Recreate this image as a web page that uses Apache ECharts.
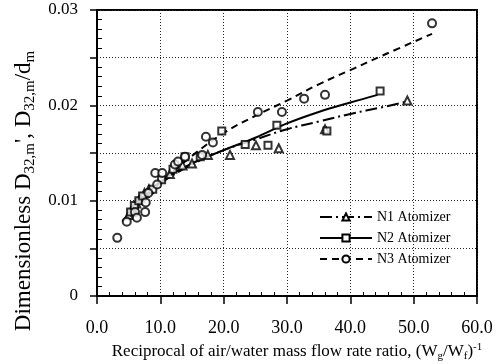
<!DOCTYPE html>
<html>
<head>
<meta charset="utf-8">
<script src="https://cdn.jsdelivr.net/npm/echarts@6/dist/echarts.min.js"></script>
<style>html,body{margin:0;padding:0;background:#fff}#c{width:503px;height:364px}</style>
</head>
<body>
<div id="c"></div>
<script>
// ---- data ----
const seriesNames = ['N1 Atomizer', 'N2 Atomizer', 'N3 Atomizer'];

// N1 (triangles)
const n1X = [5.0, 5.6, 6.2, 6.8, 7.5, 8.2, 11.5, 13.5, 15.0, 17.5, 21.0, 25.1, 28.7, 36.0, 49.0];
const n1Y = [0.0085, 0.0092, 0.0097, 0.0103, 0.0108, 0.0112, 0.0128, 0.0137, 0.0139, 0.0148, 0.0148, 0.0158, 0.0155, 0.0175, 0.0205];
// N2 (squares)
const n2X = [5.3, 5.9, 6.6, 7.2, 8.8, 10.2, 12.0, 13.9, 16.3, 19.7, 23.4, 27.0, 28.4, 36.3, 44.7];
const n2Y = [0.0088, 0.0095, 0.0100, 0.0105, 0.0112, 0.0122, 0.0133, 0.0146, 0.0146, 0.0173, 0.0159, 0.0158, 0.0179, 0.0173, 0.0215];
// N3 (circles)
const n3X = [3.2, 4.7, 6.0, 6.3, 7.6, 7.7, 8.1, 9.2, 9.5, 10.3, 12.3, 12.8, 13.9, 16.6, 17.2, 18.3, 25.4, 29.2, 32.7, 36.0, 52.9];
const n3Y = [0.0061, 0.0078, 0.0088, 0.0082, 0.0088, 0.0098, 0.0108, 0.0129, 0.0117, 0.0129, 0.0138, 0.0141, 0.0146, 0.0148, 0.0167, 0.0161, 0.0193, 0.0193, 0.0207, 0.0211, 0.0286];

// fitted curves
const fit1X = [5, 7, 10, 15, 20, 25, 30, 35, 40, 45, 49];
const fit1Y = [0.0085, 0.0101, 0.0118, 0.0138, 0.0153, 0.0164, 0.0175, 0.0183, 0.0191, 0.0198, 0.0204];
const fit2X = [4.7, 7, 10, 15, 20, 25, 30, 35, 40, 44.3];
const fit2Y = [0.0083, 0.0101, 0.0120, 0.0139, 0.0153, 0.0166, 0.0181, 0.0193, 0.0203, 0.0211];
const fit3X = [4, 6, 8, 10, 15, 20, 25, 30, 35, 40, 45, 52.9];
const fit3Y = [0.0078, 0.0093, 0.0106, 0.0119, 0.0147, 0.0171, 0.0189, 0.0205, 0.0222, 0.0237, 0.0252, 0.0275];

const xTickLabels = ['0.0', '10.0', '20.0', '30.0', '40.0', '50.0', '60.0'];
const yTickLabels = ['0', '0.01', '0.02', '0.03'];

// ---- build ----
const zip = (xs, ys) => xs.map((x, i) => [x, ys[i]]);
const FONT = 'Liberation Serif';
const BLACK = '#000';

const chart = echarts.init(document.getElementById('c'), null, {renderer: 'canvas'});

function fitSeries(name, xs, ys, dash, sym) {
  return {
    name: name, type: 'line', data: zip(xs, ys), smooth: 0.4,
    symbol: sym, symbolSize: 7, showSymbol: false,
    color: BLACK,
    lineStyle: {color: BLACK, width: 2, type: dash},
    itemStyle: {color: BLACK, borderColor: BLACK, borderWidth: 1.5},
    z: 3
  };
}
function ptSeries(name, xs, ys, sym, size) {
  return {
    name: name, type: 'scatter', data: zip(xs, ys),
    symbol: sym, symbolSize: size,
    itemStyle: {color: BLACK, borderColor: BLACK, borderWidth: 1.7},
    z: 4
  };
}

const option = {
  animation: false,
  backgroundColor: '#fff',
  textStyle: {fontFamily: FONT, color: BLACK},
  grid: {left: 97, right: 26, top: 10, bottom: 68, containLabel: false, outerBoundsMode: 'none',
    show: true, borderColor: BLACK, borderWidth: 2, backgroundColor: 'transparent'},
  legend: {
    data: seriesNames, orient: 'vertical', left: 314, top: 205,
    itemWidth: 52, itemHeight: 9, itemGap: 7,
    textStyle: {fontFamily: FONT, fontSize: 14, color: BLACK},
    inactiveColor: BLACK
  },
  xAxis: {
    type: 'value', min: 0, max: 60, interval: 10,
    axisLine: {lineStyle: {color: BLACK, width: 2}},
    axisTick: {show: true, inside: false, length: 8, lineStyle: {color: BLACK, width: 1.5}},
    minorTick: {show: true, splitNumber: 5, length: -4, lineStyle: {color: BLACK, width: 1}},
    splitLine: {show: true, lineStyle: {color: '#222', type: [1, 2], width: 1}},
    axisLabel: {margin: 23, fontFamily: FONT, fontSize: 18, color: BLACK,
      formatter: v => xTickLabels[Math.round(v / 10)] || ''},
    name: 'Reciprocal of air/water mass flow rate ratio, (W{sub|g}/W{sub|f}){sup|-1}',
    nameLocation: 'middle', nameGap: 42,
    nameTextStyle: {fontFamily: FONT, fontSize: 17, color: BLACK, lineHeight: 20, padding: [0, 0, 0, 20],
      rich: {sub: {fontFamily: FONT, fontSize: 11, lineHeight: 11, verticalAlign: 'bottom', color: BLACK},
             sup: {fontFamily: FONT, fontSize: 11, lineHeight: 11, verticalAlign: 'top', color: BLACK}}}
  },
  yAxis: {
    type: 'value', min: 0, max: 0.03, interval: 0.005,
    axisLine: {lineStyle: {color: BLACK, width: 2}},
    axisTick: {show: true, inside: false, length: 7, lineStyle: {color: BLACK, width: 1.5}},
    minorTick: {show: true, splitNumber: 5, length: -5, lineStyle: {color: BLACK, width: 1}},
    splitLine: {show: true, lineStyle: {color: '#222', type: [1, 2], width: 1}},
    axisLabel: {margin: 19, fontFamily: FONT, fontSize: 17, color: BLACK,
      formatter: v => { const r = Math.round(v * 1000); return r % 10 === 0 ? (yTickLabels[r / 10] || '') : ''; }},
    name: 'Dimensionless D{sub|32,m}\', D{sub|32,m}/d{sub|m}',
    nameLocation: 'middle', nameGap: 47,
    nameTextStyle: {fontFamily: FONT, fontSize: 23, color: BLACK, lineHeight: 26, padding: [0, 76, 0, 0],
      rich: {sub: {fontFamily: FONT, fontSize: 15, lineHeight: 15, verticalAlign: 'bottom', color: BLACK}}}
  },
  series: [
    fitSeries(seriesNames[0], fit1X, fit1Y, [12, 4, 2, 4], 'emptyTriangle'),
    fitSeries(seriesNames[1], fit2X, fit2Y, 'solid', 'emptyRect'),
    fitSeries(seriesNames[2], fit3X, fit3Y, [7, 5], 'emptyCircle'),
    ptSeries('N1 data', n1X, n1Y, 'emptyTriangle', 8),
    ptSeries('N2 data', n2X, n2Y, 'emptyRect', 7),
    ptSeries('N3 data', n3X, n3Y, 'emptyCircle', 8)
  ]
};
chart.setOption(option);
</script>
</body>
</html>
